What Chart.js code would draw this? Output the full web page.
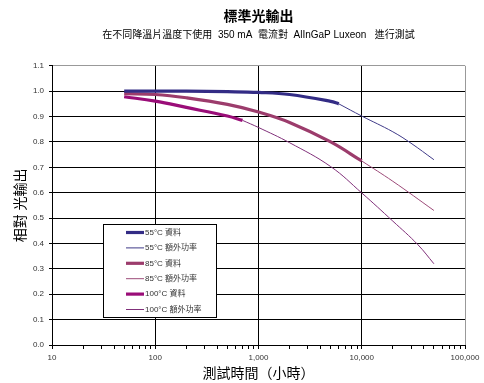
<!DOCTYPE html>
<html>
<head>
<meta charset="utf-8">
<script src="https://cdn.jsdelivr.net/npm/chart.js@4"></script>
<style>
  html, body { margin: 0; padding: 0; background: #fff; }
  #wrap { width: 484px; height: 383px; }
</style>
</head>
<body>
<div id="wrap"><canvas id="grafico"></canvas></div>
<script>
// dados (horas, saída relativa)
const horas55 = [50, 100, 200, 500, 1000, 2000, 5000, 6000];
const valores55 = [1.0, 1.0, 1.0, 0.998, 0.995, 0.987, 0.96, 0.95];
const horasExtra55 = [6000, 10000, 20000, 30000, 50000];
const valoresExtra55 = [0.95, 0.902, 0.84, 0.795, 0.73];

const horas85 = [50, 100, 200, 500, 1000, 2000, 5000, 10000];
const valores85 = [0.99, 0.987, 0.974, 0.948, 0.918, 0.877, 0.80, 0.725];
const horasExtra85 = [10000, 20000, 50000];
const valoresExtra85 = [0.725, 0.645, 0.53];

const horas100 = [50, 100, 200, 500, 700];
const valores100 = [0.978, 0.961, 0.936, 0.902, 0.885];
const horasExtra100 = [700, 1000, 2000, 5000, 10000, 20000, 35000, 50000];
const valoresExtra100 = [0.885, 0.857, 0.797, 0.703, 0.599, 0.488, 0.395, 0.32];

const rotulos = ['55°C 資料', '55°C 額外功率', '85°C 資料', '85°C 額外功率', '100°C 資料', '100°C 額外功率'];
const xTicksMaiores = [10, 100, 1000, 10000, 100000];

const fonte = '"Liberation Sans", "Noto Sans CJK TC", sans-serif';

function pares(xs, ys) {
    return xs.map((x, i) => ({ x: x, y: ys[i] }));
}

function serie(label, xs, ys, cor, largura) {
    return {
        label: label,
        data: pares(xs, ys),
        borderColor: cor,
        backgroundColor: cor,
        borderWidth: largura,
        pointRadius: 0,
        fill: false,
        tension: 0.4
    };
}

// legenda desenhada dentro da área do gráfico
const legendaInterna = {
    id: 'legendaInterna',
    afterDraw(chart) {
        const c = chart.ctx;
        const esq = 103, topo = 224, larg = 113, alt = 93;
        c.save();
        c.fillStyle = '#fff';
        c.fillRect(esq, topo, larg, alt);
        c.strokeStyle = '#000';
        c.lineWidth = 1;
        c.strokeRect(esq + 0.5, topo + 0.5, larg, alt);
        c.font = '8px ' + fonte;
        c.textBaseline = 'middle';
        chart.data.datasets.forEach((ds, i) => {
            const y = topo + 8.5 + i * 15.4;
            c.strokeStyle = ds.borderColor;
            c.lineWidth = ds.borderWidth;
            c.beginPath();
            c.moveTo(esq + 23, y);
            c.lineTo(esq + 41, y);
            c.stroke();
            c.fillStyle = '#333';
            c.fillText(ds.label, esq + 42, y);
        });
        c.restore();
    }
};

const ctx = document.getElementById('grafico').getContext('2d');
const meuGrafico = new Chart(ctx, {
    type: 'line',
    data: {
        datasets: [
            serie(rotulos[0], horas55, valores55, '#332c85', 3.2),
            serie(rotulos[1], horasExtra55, valoresExtra55, '#3f3a88', 1),
            serie(rotulos[2], horas85, valores85, '#9c3c6c', 3.2),
            serie(rotulos[3], horasExtra85, valoresExtra85, '#9c4a78', 1),
            serie(rotulos[4], horas100, valores100, '#9a0d78', 3.2),
            serie(rotulos[5], horasExtra100, valoresExtra100, '#80307a', 1)
        ]
    },
    options: {
        responsive: true,
        maintainAspectRatio: false,
        animation: false,
        layout: { padding: { left: 9, right: 19, top: 0, bottom: 0 } },
        plugins: {
            legend: { display: false },
            tooltip: { enabled: false },
            title: {
                display: true,
                text: '標準光輸出',
                fullSize: false,
                color: '#000',
                font: { family: fonte, size: 14, weight: 'bold' },
                padding: { top: 9, bottom: 2 }
            },
            subtitle: {
                display: true,
                text: '在不同降溫片溫度下使用  350 mA  電流對  AlInGaP Luxeon   進行測試',
                fullSize: false,
                color: '#000',
                font: { family: fonte, size: 10 },
                padding: { top: 1, bottom: 25 }
            }
        },
        scales: {
            x: {
                type: 'logarithmic',
                min: 10,
                max: 100000,
                afterBuildTicks(scale) {
                    const lista = [];
                    for (let d = 10; d < 100000; d *= 10) {
                        for (let k = 1; k < 10; k++) lista.push({ value: d * k });
                    }
                    lista.push({ value: 100000 });
                    scale.ticks = lista;
                },
                afterFit(scale) { scale.height = 38; },
                border: { color: '#000', width: 1 },
                grid: {
                    color: c => {
                        const v = c.tick ? c.tick.value : 0;
                        if (v === 100000) return '#999';
                        return xTicksMaiores.includes(v) ? '#000' : 'rgba(0,0,0,0)';
                    },
                    tickColor: '#000',
                    tickLength: 4
                },
                ticks: {
                    autoSkip: false,
                    maxRotation: 0,
                    color: '#333',
                    font: { family: fonte, size: 8 },
                    padding: 4,
                    callback: function(value) {
                        return xTicksMaiores.includes(value) ? value.toLocaleString('en-US') : '';
                    }
                },
                title: {
                    display: true,
                    text: '測試時間（小時）',
                    color: '#000',
                    font: { family: fonte, size: 14, lineHeight: 1 },
                    padding: { top: 2, bottom: 2 }
                }
            },
            y: {
                min: 0,
                max: 1.1,
                afterFit(scale) { scale.width = 43; },
                border: { color: '#000', width: 1 },
                grid: {
                    color: c => (c.tick && Math.abs(c.tick.value - 1.1) < 0.001) ? '#999' : '#000',
                    tickColor: '#000',
                    tickLength: 3
                },
                ticks: {
                    stepSize: 0.1,
                    color: '#333',
                    font: { family: fonte, size: 8 },
                    padding: 5,
                    callback: function(value) { return value.toFixed(1); }
                },
                title: {
                    display: true,
                    text: '相對 光輸出',
                    color: '#000',
                    font: { family: fonte, size: 14, lineHeight: 1 },
                    padding: { top: 5, bottom: 5 }
                }
            }
        }
    },
    plugins: [legendaInterna]
});
</script>
</body>
</html>
